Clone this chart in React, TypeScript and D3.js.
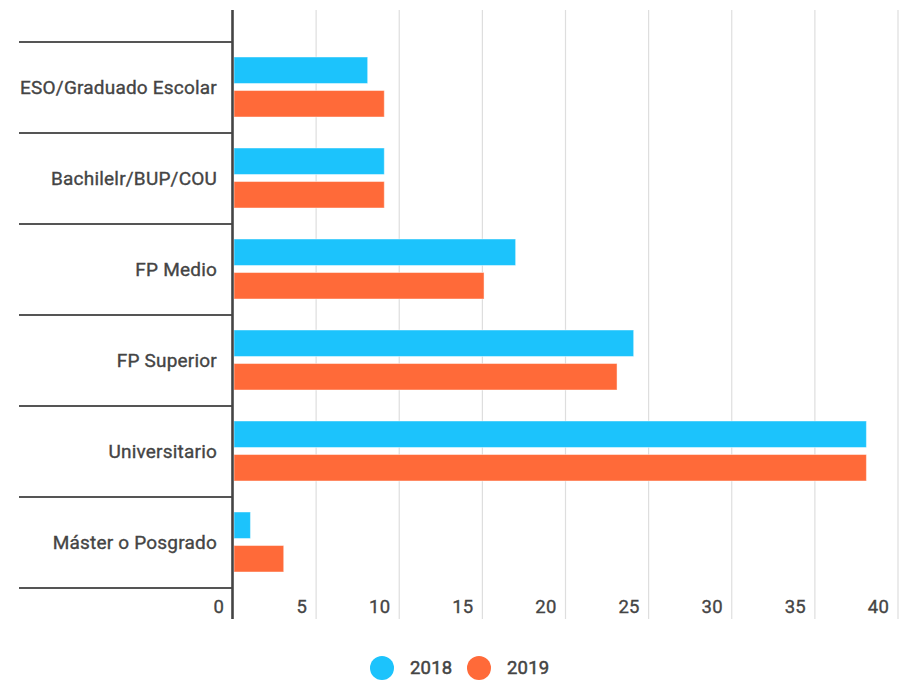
import React from "react";
import * as d3 from "d3";

const categories = [
  "ESO/Graduado Escolar",
  "Bachilelr/BUP/COU",
  "FP Medio",
  "FP Superior",
  "Universitario",
  "Máster o Posgrado",
];
const series = ["2018", "2019"];
const values2018 = [8.1, 9.1, 17.0, 24.1, 38.1, 1.05];
const values2019 = [9.1, 9.1, 15.1, 23.1, 38.1, 3.05];
const xTicks = [0, 5, 10, 15, 20, 25, 30, 35, 40];
const colors = ["#1cc3fc", "#ff6a39"];

const W = 903;
const H = 680;
const FONT = "Roboto, 'Noto Sans', sans-serif";
const textStyle = { stroke: "#444", strokeWidth: 0.35 };

export default function App() {
  const x = d3.scaleLinear().domain([0, 40]).range([233, 898]);
  const y = d3.scaleBand<string>().domain(categories).range([42, 588]).padding(0);
  const sub = d3.scaleBand<string>().domain(series).range([15, 75]).paddingInner(0.21).paddingOuter(0);
  const data = [values2018, values2019];

  return (
    <svg
      width={W}
      height={H}
      style={{ position: "absolute", left: 0, top: 0, background: "#fff" }}
      fontFamily={FONT}
    >
      {xTicks.slice(1).map((t) => (
        <line key={"g" + t} x1={x(t)} x2={x(t)} y1={10} y2={619} stroke="#dedede" strokeWidth={1.2} />
      ))}
      {categories.map((c, i) =>
        series.map((s, j) => (
          <rect
            key={c + s}
            x={x(0) + 1}
            y={(y(c) as number) + (sub(s) as number)}
            width={x(data[j][i]) - x(0) - 1}
            height={sub.bandwidth()}
            fill={colors[j]}
            stroke="rgba(255,255,255,0.45)"
            strokeWidth={1}
          />
        ))
      )}
      {[...categories.map((c) => y(c) as number), 588].map((yy, i) => (
        <line key={"s" + i} x1={19} x2={233} y1={yy} y2={yy} stroke="#555" strokeWidth={2} />
      ))}
      <line x1={232.5} x2={232.5} y1={10} y2={619} stroke="#444" strokeWidth={2.6} />
      {categories.map((c) => (
        <text
          key={"l" + c}
          x={217}
          y={(y(c) as number) + y.bandwidth() / 2}
          textAnchor="end"
          dominantBaseline="central"
          fontSize={19}
          letterSpacing={0.2}
          fill="#444"
          style={textStyle}
        >
          {c}
        </text>
      ))}
      {xTicks.map((t) => (
        <text key={"t" + t} x={x(t) - 9} y={613} textAnchor="end" fontSize={18.5} letterSpacing={0.2} fill="#444" style={textStyle}>
          {t}
        </text>
      ))}
      {series.map((s, j) => {
        const cx = j === 0 ? 382 : 479;
        return (
          <g key={"lg" + s}>
            <circle cx={cx} cy={668} r={12} fill={colors[j]} />
            <text x={cx + 28} y={668} dominantBaseline="central" fontSize={18.5} letterSpacing={0.2} fill="#444" style={{ stroke: "#444", strokeWidth: 0.5 }}>
              {s}
            </text>
          </g>
        );
      })}
    </svg>
  );
}
